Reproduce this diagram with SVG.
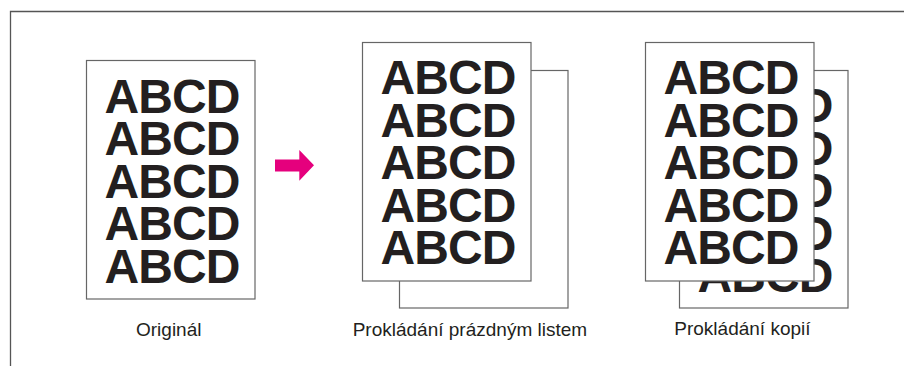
<svg xmlns="http://www.w3.org/2000/svg" width="904" height="366" viewBox="0 0 904 366">
<style>
.frame{fill:none;stroke:#555;stroke-width:1.3}
.page{fill:#fff;stroke:#666;stroke-width:1.2}
.big{font-family:"Liberation Sans",Arial,sans-serif;font-weight:bold;font-size:48px;letter-spacing:-0.9px;fill:#231f20}
.lbl{font-family:"Liberation Sans",Arial,sans-serif;font-size:19px;fill:#231f20}
</style>
<defs>
<g id="abcd">
<text class="big" x="0" y="0">ABCD</text>
<text class="big" x="0" y="42.5">ABCD</text>
<text class="big" x="0" y="85">ABCD</text>
<text class="big" x="0" y="127.5">ABCD</text>
<text class="big" x="0" y="170">ABCD</text>
</g>
</defs>
<rect width="904" height="366" fill="#fff"/>
<path class="frame" d="M10.5 366 V11.5 H904"/>
<g id="original">
<rect class="page" x="86.5" y="60.5" width="168.5" height="238.5"/>
<use href="#abcd" x="104.5" y="112.7"/>
<text class="lbl" x="136" y="336">Originál</text>
</g>
<g id="connectors">
<polygon points="275,159.5 299.3,159.5 299.3,150 314,165.3 299.3,180.7 299.3,171.5 275,171.5" fill="#e5007d"/>
</g>
<g id="blank-interleave">
<rect class="page" x="399.5" y="70.5" width="168.5" height="237.5"/>
<rect class="page" x="362.5" y="42.5" width="168.5" height="238.5"/>
<use href="#abcd" x="380.5" y="94.2"/>
<text class="lbl" x="352.7" y="336">Prokládání prázdným listem</text>
</g>
<g id="copy-interleave">
<rect class="page" x="679.5" y="70.5" width="168.5" height="237.5"/>
<use href="#abcd" x="697.5" y="122.2"/>
<rect class="page" x="645.5" y="42.5" width="168.5" height="238.5"/>
<use href="#abcd" x="663.5" y="94.2"/>
<text class="lbl" x="674.3" y="335">Prokládání kopií</text>
</g>
</svg>
